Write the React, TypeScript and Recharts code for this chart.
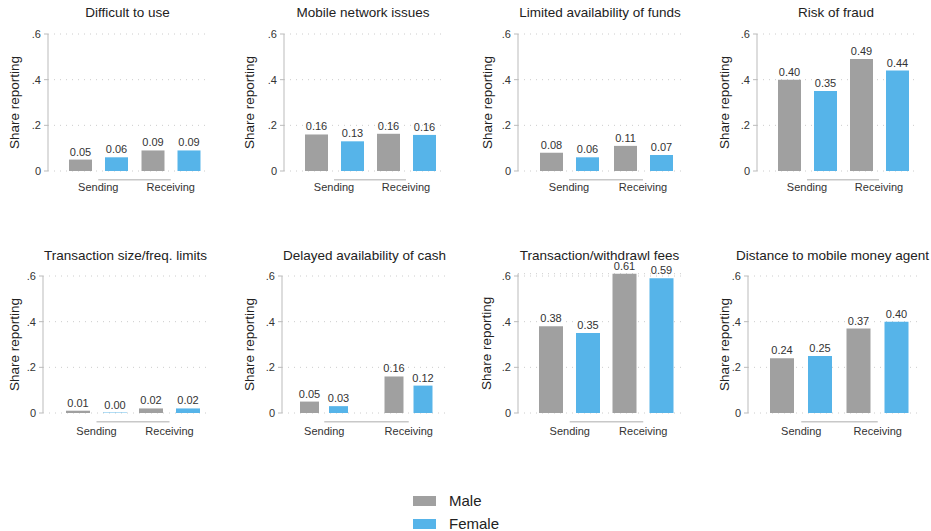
import React from 'react';
import {
  BarChart,
  Bar,
  XAxis,
  YAxis,
  CartesianGrid,
  LabelList,
  ReferenceLine,
} from 'recharts';

// data
const titles = [
  'Difficult to use',
  'Mobile network issues',
  'Limited availability of funds',
  'Risk of fraud',
  'Transaction size/freq. limits',
  'Delayed availability of cash',
  'Transaction/withdrawl fees',
  'Distance to mobile money agent',
];
const groups = ['Sending', 'Receiving'];
// [sending, receiving] per panel
const maleShare = [
  [0.05, 0.09],
  [0.16, 0.163],
  [0.08, 0.11],
  [0.4, 0.49],
  [0.01, 0.02],
  [0.05, 0.16],
  [0.38, 0.61],
  [0.24, 0.37],
];
const femaleShare = [
  [0.06, 0.09],
  [0.13, 0.158],
  [0.06, 0.07],
  [0.35, 0.44],
  [0.002, 0.02],
  [0.03, 0.12],
  [0.35, 0.59],
  [0.25, 0.4],
];
const yTicks = [0, 0.2, 0.4, 0.6];

const MALE = '#a0a0a0';
const FEMALE = '#56b4e9';
const FONT = '"Liberation Sans", Arial, sans-serif';

// layout of each small panel (page px)
const layout = [
  { axisX: 48, right: 207, labelX: 14, pL: 14, pR: 0, bar: 23, gap: 13 },
  { axisX: 284, right: 442, labelX: 249, pL: 14, pR: 0, bar: 23, gap: 13 },
  { axisX: 518, right: 682, labelX: 487, pL: 14, pR: 2, bar: 23, gap: 13 },
  { axisX: 757, right: 915, labelX: 724, pL: 14, pR: 0, bar: 23, gap: 13 },
  { axisX: 43, right: 208, labelX: 14, pL: 17, pR: 2, bar: 24, gap: 13 },
  { axisX: 282, right: 447, labelX: 249, pL: 0, pR: -4, bar: 19, gap: 10 },
  { axisX: 518, right: 681, labelX: 487, pL: 15, pR: 1, bar: 24, gap: 13 },
  { axisX: 748, right: 917, labelX: 724, pL: 15, pR: 1, bar: 24, gap: 14 },
];
const ROW_TOP = [0, 242];
const PLOT_TOP = 34;
const PLOT_H = 137;
const CHART_H = 205;

const YLabel = ({ viewBox }: any) => {
  const cx = viewBox.x + 14;
  const cy = viewBox.y + viewBox.height / 2;
  return (
    <text
      x={cx}
      y={cy}
      transform={`rotate(-90, ${cx}, ${cy})`}
      textAnchor="middle"
      dominantBaseline="central"
      fontSize={13.5}
      fill="#222"
      fontFamily={FONT}
    >
      Share reporting
    </text>
  );
};

const fmtY = (v: number) => (v === 0 ? '0' : v.toFixed(1).replace(/^0/, ''));

function Panel({ i }: { i: number }) {
  const l = layout[i];
  const row = i < 4 ? 0 : 1;
  const left = l.labelX - 14;
  const width = l.right - left + 2;
  const data = groups.map((g, k) => ({
    group: g,
    male: maleShare[i][k],
    female: femaleShare[i][k],
  }));
  const maxV = Math.max(0.6, ...maleShare[i], ...femaleShare[i]);
  // keep .6 at the same height when a bar overflows it
  const topMargin = PLOT_TOP - PLOT_H * (maxV / 0.6 - 1);
  const mid = (l.axisX + l.right) / 2;

  return (
    <>
      <div
        style={{
          position: 'absolute',
          left: mid - 120,
          width: 240,
          top: ROW_TOP[row] + 4.5 + (row ? 1 : 0),
          lineHeight: '16px',
          textAlign: 'center',
          fontSize: 13.5,
          color: '#222',
          fontFamily: FONT,
          whiteSpace: 'nowrap',
        }}
      >
        {titles[i]}
      </div>
      <div style={{ position: 'absolute', left, top: ROW_TOP[row] }}>
        <BarChart
          width={width}
          height={CHART_H}
          data={data}
          barGap={l.gap}
          margin={{ top: topMargin, right: 2, left: 0, bottom: 4 }}
        >
          <CartesianGrid
            vertical={false}
            stroke="#cccccc"
            strokeDasharray="1 5"
          />
          <XAxis
            dataKey="group"
            type="category"
            height={30}
            axisLine={false}
            tickLine={false}
            tickMargin={row ? 8 : 6}
            padding={{ left: l.pL, right: l.pR }}
            tick={{ fontSize: 11, fill: '#333', fontFamily: FONT }}
            interval={0}
          />
          <YAxis
            width={l.axisX - left}
            domain={[0, 0.6]}
            ticks={yTicks}
            tickFormatter={fmtY}
            axisLine={{ stroke: '#bbbbbb' }}
            tickLine={{ stroke: '#bbbbbb' }}
            tickSize={4}
            tickMargin={3}
            tick={{ fontSize: 11, fill: '#333', fontFamily: FONT }}
            label={<YLabel />}
          />
          <ReferenceLine
            segment={[
              { x: groups[0], y: -0.038 },
              { x: groups[1], y: -0.038 },
            ]}
            stroke="#c8c8c8"
            strokeWidth={1.5}
            ifOverflow="visible"
          />
          <Bar
            dataKey="male"
            fill={MALE}
            barSize={l.bar}
            isAnimationActive={false}
          >
            <LabelList
              dataKey="male"
              position="top"
              offset={4}
              formatter={(v: any) => Number(v).toFixed(2)}
              style={{ fontSize: 11, fill: '#333', fontFamily: FONT }}
            />
          </Bar>
          <Bar
            dataKey="female"
            fill={FEMALE}
            barSize={l.bar}
            isAnimationActive={false}
          >
            <LabelList
              dataKey="female"
              position="top"
              offset={4}
              formatter={(v: any) => Number(v).toFixed(2)}
              style={{ fontSize: 11, fill: '#333', fontFamily: FONT }}
            />
          </Bar>
        </BarChart>
      </div>
    </>
  );
}

const LegendRow = ({ color, label, top }: any) => (
  <div
    style={{
      position: 'absolute',
      left: 413,
      top,
      display: 'flex',
      alignItems: 'center',
      fontFamily: FONT,
      fontSize: 15,
      color: '#222',
    }}
  >
    <div style={{ width: 23, height: 10, background: color, marginRight: 13 }} />
    <span>{label}</span>
  </div>
);

export default function App() {
  return (
    <div
      style={{
        position: 'absolute',
        left: 0,
        top: 0,
        width: 931,
        height: 531,
        background: '#fff',
        overflow: 'hidden',
      }}
    >
      {titles.map((_, i) => (
        <Panel key={i} i={i} />
      ))}
      <LegendRow color={MALE} label="Male" top={492} />
      <LegendRow color={FEMALE} label="Female" top={515} />
    </div>
  );
}
